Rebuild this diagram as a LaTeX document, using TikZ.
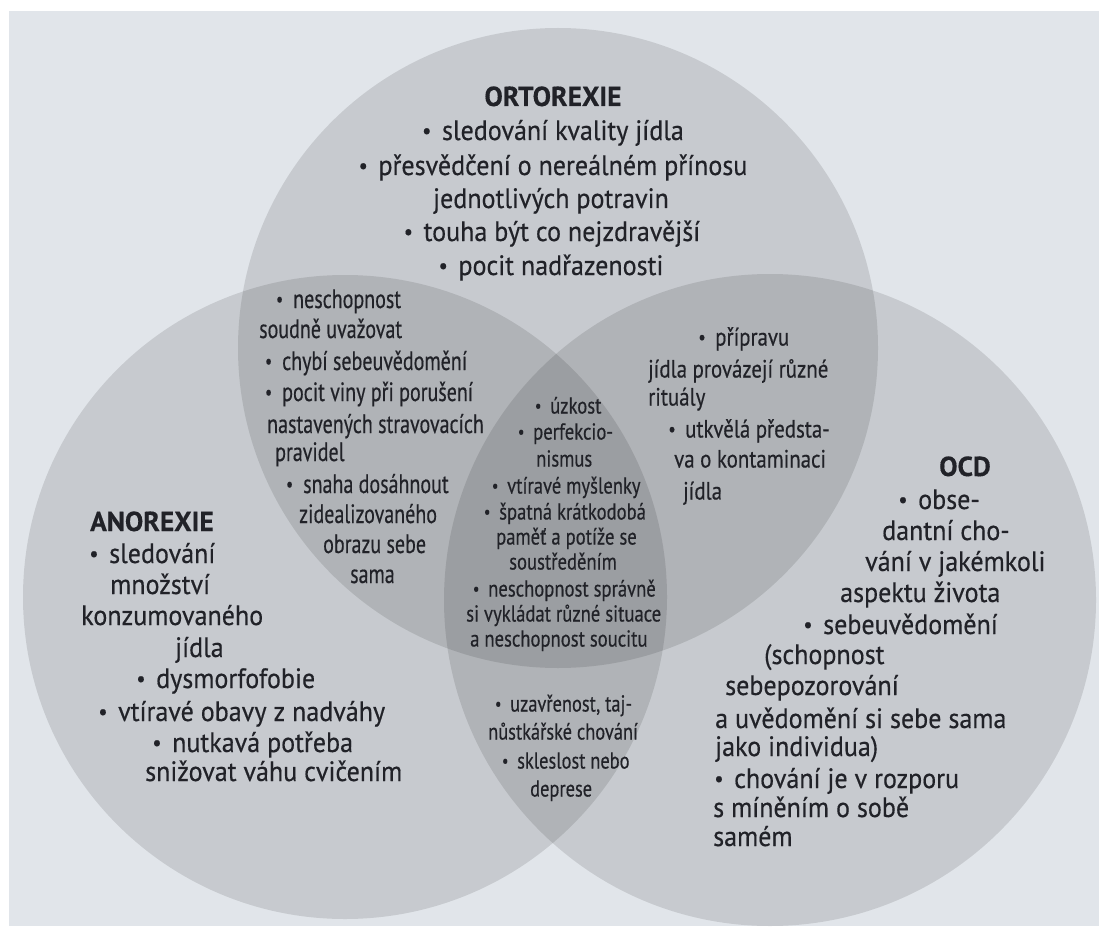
\documentclass[tikz,border=0pt]{standalone}
\usepackage{fontspec}
\setmainfont[FakeStretch=0.93,FakeBold=0.4]{PT Sans}
\newfontfamily\headfnt[FakeBold=0.3]{PT Sans}
\newfontfamily\condA[FakeStretch=0.755,FakeBold=0.4]{PT Sans}
\newfontfamily\condB[FakeStretch=0.81,FakeBold=0.4]{PT Sans}
\newfontfamily\condC[FakeStretch=0.835,FakeBold=0.4]{PT Sans}
\newfontfamily\condD[FakeStretch=0.80,FakeBold=0.4]{PT Sans}
\newcommand\bdot{\raisebox{0.07em}{\scalebox{0.78}{•}}}
\newcommand\bu{\llap{\bdot\hspace{0.38em}}}
\newcommand\bi{\bdot\hspace{0.38em}}
\definecolor{paper}{RGB}{225,229,234}
\definecolor{ink}{RGB}{33,34,40}
\tikzset{
  venn/.style={fill=black, fill opacity=0.112, draw=none},
  txt/.style={anchor=base west, inner sep=0pt, text=ink},
  ctr/.style={anchor=base, inner sep=0pt, text=ink},
  mainf/.style={font=\fontsize{28}{32}\selectfont, yshift=-8pt},
  headf/.style={font=\fontsize{27.5}{32}\selectfont\headfnt\bfseries, yshift=-9pt},
  lt/.style={font=\fontsize{26.5}{30}\selectfont\condA, yshift=-8pt},
  cen/.style={font=\fontsize{23}{27}\selectfont\condB, yshift=-6.5pt},
  tr/.style={font=\fontsize{25}{29}\selectfont\condC, yshift=-7.5pt},
  lr/.style={font=\fontsize{23}{27}\selectfont\condD, yshift=-6.5pt},
}
\begin{document}
\begin{tikzpicture}[x=1pt,y=-1pt]
\useasboundingbox (0,0) rectangle (1099,933);
\fill[white] (0,0) rectangle (1099,933);
\fill[paper] (9,11) rectangle (1099,926);
% circles
\fill[venn] (558,348) circle (320pt);
\fill[venn] (345,597) circle (322pt);
\fill[venn] (770,600) circle (326pt);
% ORTOREXIE
\node[ctr,headf] (o0) at (553,97) {ORTOREXIE};
\node[ctr,mainf] (o1) at (553,132) {\bi sledování kvality jídla};
\node[ctr,mainf] (o2) at (553,167) {\bi přesvědčení o nereálném přínosu};
\node[ctr,mainf] (o3) at (551,200) {jednotlivých potravin};
\node[ctr,mainf] (o4) at (552,233) {\bi touha být co nejzdravější};
\node[ctr,mainf] (o5) at (551,267) {\bi pocit nadřazenosti};
% left-top intersection
\node[txt,lt] (a1) at (293,300) {\bu neschopnost};
\node[txt,lt] (a2) at (259,330) {soudně uvažovat};
\node[txt,lt] (a3) at (282,362) {\bu chybí sebeuvědomění};
\node[txt,lt] (a4) at (282,393) {\bu pocit viny při porušení};
\node[txt,lt] (a5) at (267,425) {nastavených stravovacích};
\node[txt,lt] (a6) at (275,453) {pravidel};
\node[txt,lt] (a7) at (303,485) {\bu snaha dosáhnout};
\node[txt,lt] (a8) at (299,515) {zidealizovaného};
\node[txt,lt] (a9) at (323,545) {obrazu sebe};
\node[txt,lt] (a10) at (350,575) {sama};
% centre
\node[txt,cen] (c1) at (550,407) {\bu úzkost};
\node[txt,cen] (c2) at (533,433) {\bu perfekcio-};
\node[txt,cen] (c3) at (536,460) {nismus};
\node[txt,cen] (c4) at (507,487) {\bu vtíravé myšlenky};
\node[txt,cen] (c5) at (499,513) {\bu špatná krátkodobá};
\node[txt,cen] (c6) at (496,538) {paměť a potíže se};
\node[txt,cen] (c7) at (509,563) {soustředěním};
\node[txt,cen] (c8) at (488,590) {\bu neschopnost správně};
\node[txt,cen] (c9) at (466,615) {si vykládat různé situace};
\node[txt,cen] (c10) at (470,640) {a neschopnost soucitu};
% top-right intersection
\node[txt,tr] (b1) at (715,338) {\bu přípravu};
\node[txt,tr] (b2) at (648,370) {jídla provázejí různé};
\node[txt,tr] (b3) at (648,398) {rituály};
\node[txt,tr] (b4) at (685,430) {\bu utkvělá předsta-};
\node[txt,tr] (b5) at (674,460) {va o kontaminaci};
\node[txt,tr] (b6) at (683,492) {jídla};
% OCD
\node[txt,headf] (d0) at (939,467) {OCD};
\node[txt,mainf] (d1) at (918,501) {\bu obse-};
\node[txt,mainf] (d2) at (882,532) {dantní cho-};
\node[txt,mainf] (d3) at (865,563) {vání v jakémkoli};
\node[txt,mainf] (d4) at (840,594) {aspektu života};
\node[txt,mainf] (d5) at (823,626) {\bu sebeuvědomění};
\node[txt,mainf] (d6) at (764,656) {(schopnost};
\node[txt,mainf] (d7) at (725,687) {sebepozorování};
\node[txt,mainf] (d8) at (715,720) {a uvědomění si sebe sama};
\node[txt,mainf] (d9) at (715,748) {jako individua)};
\node[txt,mainf] (d10) at (734,780) {\bu chování je v rozporu};
\node[txt,mainf] (d11) at (713,809) {s míněním o sobě};
\node[txt,mainf] (d12) at (713,838) {samém};
% ANOREXIE
\node[txt,headf] (e0) at (90,522) {ANOREXIE};
\node[txt,mainf] (e1) at (109,555) {\bu sledování};
\node[txt,mainf] (e2) at (110,586) {množství};
\node[txt,mainf] (e3) at (81,617) {konzumovaného};
\node[txt,mainf] (e4) at (175,649) {jídla};
\node[txt,mainf] (e5) at (156,680) {\bu dysmorfofobie};
\node[txt,mainf] (e6) at (118,713) {\bu vtíravé obavy z nadváhy};
\node[txt,mainf] (e7) at (172,744) {\bu nutkavá potřeba};
\node[txt,mainf] (e8) at (145,773) {snižovat váhu cvičením};
% left-right intersection
\node[txt,lr] (f1) at (510,705) {\bu uzavřenost, taj-};
\node[txt,lr] (f2) at (488,733) {nůstkářské chování};
\node[txt,lr] (f3) at (517,762) {\bu skleslost nebo};
\node[txt,lr] (f4) at (530,790) {deprese};
\end{tikzpicture}
\end{document}
